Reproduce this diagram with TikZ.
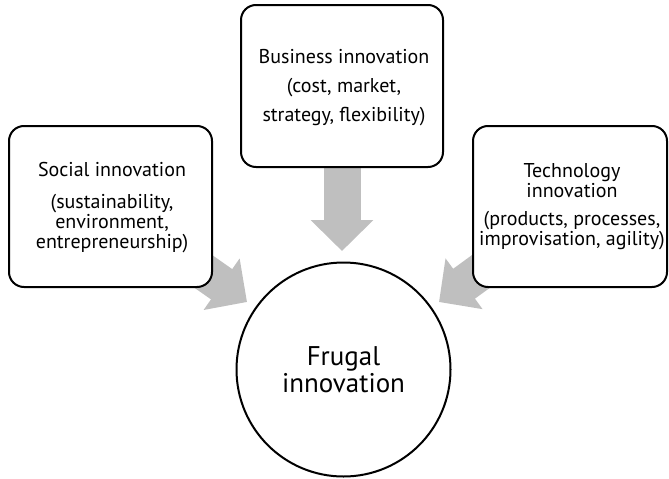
\documentclass[tikz,border=0pt]{standalone}
\usepackage{fontspec}
\setmainfont{PT Sans}
\usetikzlibrary{arrows.meta,backgrounds}
\definecolor{arrowgray}{RGB}{191,191,191}
\begin{document}
\begin{tikzpicture}[x=1pt,y=-1pt,
  box/.style={draw=black, line width=2pt, rounded corners=15pt, fill=white, inner sep=0pt, minimum height=161pt},
  boxtext/.style={align=center, inner sep=0pt, font=\fontsize{20}{20}\selectfont},
  bigcircle/.style={circle, draw=black, line width=2pt, fill=white, minimum size=214pt, inner sep=0pt, align=center, font=\fontsize{27}{27}\selectfont},
  fatarrow/.style={draw=arrowgray, line width=37pt, -{Triangle[length=31pt,width=61pt]}}]
\useasboundingbox (0,0) rectangle (669,479);

\node[box, minimum width=203pt] (social) at (110.5,206.5) {};
\node[box, minimum width=202pt, minimum height=162pt] (business) at (342,86) {};
\node[box, minimum width=194pt] (tech) at (570,206.5) {};
\node[bigcircle] (frugal) at (343.5,369.5) {Frugal\\innovation};

\node[boxtext] (socialtext) at (112,207.5) {Social innovation\\[12pt](sustainability,\\environment,\\entrepreneurship)};
\node[boxtext] (businesstext) at (344,87.5) {Business innovation\\[9.5pt](cost, market,\\[9pt]strategy, flexibility)};
\node[boxtext] (techtext) at (572,206.5) {Technology\\innovation\\[8pt](products, processes,\\improvisation, agility)};

\coordinate (tipL) at (247,302);
\coordinate (tipT) at (342,251);
\coordinate (tipR) at (439,302);

\begin{scope}[on background layer]
  \draw[fatarrow] (social.center) -- (tipL);
  \draw[fatarrow] (business.center) -- (tipT);
  \draw[fatarrow] (tech.center) -- (tipR);
\end{scope}
\end{tikzpicture}
\end{document}
